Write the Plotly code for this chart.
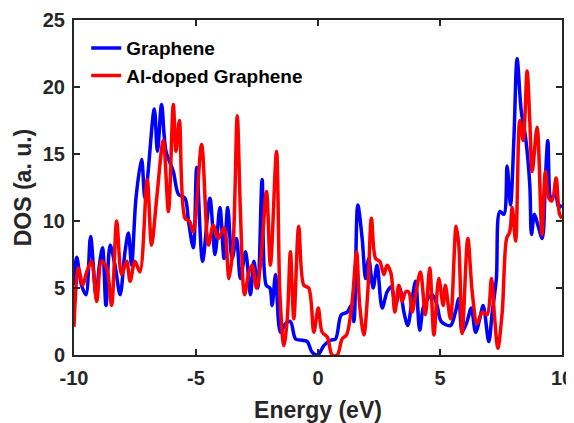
import plotly.graph_objects as go

# Graphene (blue)
energy_graphene = [-10.00, -9.89, -9.69, -9.51, -9.32, -9.10, -8.96, -8.83, -8.69, -8.52,
                   -8.32, -8.11, -7.91, -7.77, -7.64, -7.46, -7.23, -7.09, -6.71, -6.58,
                   -6.41, -6.23, -5.93, -5.72, -5.45, -5.31, -5.11, -4.97, -4.73, -4.43,
                   -4.22, -4.02, -3.85, -3.70, -3.52, -3.34, -3.18, -2.97, -2.77, -2.63,
                   -2.47, -2.29, -2.12, -1.97, -1.88, -1.74, -1.54, -1.33, -1.13, -0.92,
                   -0.65, -0.44, -0.24, -0.01, 0.24, 0.51, 0.72, 0.95, 1.20, 1.36,
                   1.47, 1.63, 1.81, 1.95, 2.08, 2.26, 2.42, 2.63, 2.83, 3.00,
                   3.18, 3.35, 3.52, 3.68, 3.86, 4.00, 4.17, 4.34, 4.68, 4.88,
                   5.05, 5.43, 5.63, 5.77, 5.91, 6.11, 6.28, 6.46, 6.63, 6.77,
                   7.00, 7.14, 7.31, 7.45, 7.62, 7.75, 7.89, 8.03, 8.16, 8.33,
                   8.51, 8.68, 8.75, 8.87, 9.01, 9.19, 9.32, 9.42, 9.56, 9.73,
                   9.87, 10.00]
dos_graphene = [5.2, 7.3, 5.2, 4.5, 8.85, 4.5, 6.7, 8.0, 3.7, 8.2,
                6.7, 4.5, 7.7, 9.1, 6.7, 11.7, 14.6, 11.7, 18.35, 15.2,
                18.7, 15.2, 13.7, 12.0, 11.7, 10.0, 8.0, 14.0, 7.0, 11.7,
                7.5, 11.0, 7.2, 11.0, 7.2, 8.7, 5.7, 7.7, 4.5, 7.0,
                5.0, 13.1, 5.2, 5.0, 3.7, 6.0, 1.7, 2.35, 2.5, 1.2,
                1.1, 1.0, 0.2, 0.0, 0.7, 1.1, 1.2, 3.0, 3.2, 3.7,
                2.5, 11.2, 8.7, 5.7, 7.2, 5.0, 6.7, 3.5, 4.7, 5.1,
                3.7, 5.0, 3.2, 2.2, 4.2, 5.5, 1.85, 3.7, 4.5, 3.7,
                2.5, 2.2, 3.2, 4.2, 1.7, 2.5, 3.5, 1.7, 2.7, 3.7,
                1.0, 3.2, 5.7, 10.7, 10.5, 14.1, 11.2, 16.2, 22.1, 18.2,
                16.2, 12.7, 9.0, 10.5, 9.7, 8.7, 13.2, 16.0, 11.7, 12.0,
                11.0, 11.2]

# Al-doped Graphene (red)
energy_aldoped = [-10.00, -9.82, -9.64, -9.48, -9.28, -9.07, -8.87, -8.66, -8.46, -8.25,
                  -8.05, -7.84, -7.70, -7.50, -7.30, -7.00, -6.82, -6.61, -6.34, -6.13,
                  -5.93, -5.82, -5.68, -5.45, -5.27, -5.11, -4.77, -4.49, -4.29, -4.08,
                  -3.85, -3.65, -3.48, -3.31, -3.18, -3.01, -2.83, -2.70, -2.52, -2.36,
                  -2.11, -1.95, -1.70, -1.56, -1.40, -1.26, -1.13, -0.99, -0.79, -0.58,
                  -0.38, -0.17, 0.01, 0.17, 0.38, 0.58, 0.79, 0.99, 1.17, 1.40,
                  1.58, 1.71, 1.88, 2.04, 2.19, 2.36, 2.53, 2.70, 2.83, 2.99,
                  3.15, 3.31, 3.45, 3.59, 3.72, 3.86, 4.00, 4.20, 4.40, 4.58,
                  4.75, 4.95, 5.13, 5.22, 5.43, 5.66, 5.77, 5.91, 6.14, 6.32,
                  6.52, 6.73, 6.93, 7.11, 7.23, 7.37, 7.55, 7.73, 7.86, 7.96,
                  8.10, 8.27, 8.41, 8.57, 8.68, 8.78, 8.98, 9.18, 9.32, 9.46,
                  9.59, 9.76, 9.90, 10.00]
dos_aldoped = [2.1, 6.5, 5.2, 6.2, 7.0, 4.0, 7.0, 6.5, 3.7, 10.0,
               6.0, 7.0, 5.5, 7.0, 6.2, 13.1, 8.2, 11.7, 16.0, 10.7,
               18.7, 15.2, 17.5, 10.2, 10.0, 9.2, 15.7, 8.2, 9.7, 8.7,
               9.5, 5.7, 8.2, 17.85, 10.7, 4.5, 6.2, 6.7, 5.0, 6.7,
               12.2, 6.7, 15.2, 4.5, 0.7, 2.7, 7.7, 2.7, 9.6, 5.2,
               5.0, 1.7, 3.5, 1.7, 1.35, 0.0, 0.0, 1.2, 1.5, 4.0,
               7.7, 3.7, 1.5, 4.7, 10.2, 7.2, 7.0, 6.0, 6.7, 6.1,
               3.2, 5.2, 4.0, 4.7, 4.7, 3.2, 4.5, 6.2, 3.0, 6.5,
               1.5, 5.7, 3.7, 5.2, 2.7, 9.6, 8.2, 1.6, 8.7, 4.7,
               2.35, 3.2, 3.0, 5.7, 3.0, 0.5, 3.2, 8.7, 9.2, 11.0,
               8.5, 17.5, 16.0, 21.2, 17.5, 13.7, 17.0, 9.0, 13.7, 11.7,
               11.5, 13.2, 10.5, 10.2]

x_ticks = [-10, -5, 0, 5, 10]
y_ticks = [0, 5, 10, 15, 20, 25]

FONT = "Liberation Sans, Arial, sans-serif"
AX = "#262626"

fig = go.Figure()
fig.add_trace(go.Scatter(x=energy_graphene, y=dos_graphene, mode="lines",
                         name="<b>Graphene</b>",
                         line=dict(color="#0000ff", width=3.5, shape="spline", smoothing=0.9)))
fig.add_trace(go.Scatter(x=energy_aldoped, y=dos_aldoped, mode="lines",
                         name="<b>Al-doped Graphene</b>",
                         line=dict(color="#ff0000", width=3.5, shape="spline", smoothing=0.9)))

axis_common = dict(showgrid=False, zeroline=False, showline=True, linecolor=AX, linewidth=2,
                   mirror="ticks", ticks="inside", ticklen=6, tickwidth=2, tickcolor=AX,
                   automargin=False,
                   tickfont=dict(family=FONT, size=20, color=AX))

fig.update_xaxes(range=[-10, 10], tickvals=x_ticks,
                 ticktext=[f"<b>{v}</b>" for v in x_ticks],
                 ticklabelstandoff=4,
                 title=dict(text="<b>Energy (eV)</b>", font=dict(family=FONT, size=23, color=AX),
                            standoff=15),
                 **axis_common)
fig.update_yaxes(range=[0, 25], tickvals=y_ticks,
                 ticktext=[f"<b>{v}</b>" for v in y_ticks],
                 ticklabelstandoff=3,
                 title=dict(text="<b>DOS (a. u.)</b>", font=dict(family=FONT, size=23, color=AX),
                            standoff=5),
                 **axis_common)

# The page body adds an 8px offset; plot area kept at the reference position.
fig.update_layout(
    width=574, height=415,
    margin=dict(l=66, r=20, t=12, b=68),
    plot_bgcolor="white", paper_bgcolor="white",
    font=dict(family=FONT, color="black"),
    showlegend=True,
    legend=dict(x=0.025, y=0.973, xanchor="left", yanchor="top",
                bgcolor="rgba(0,0,0,0)", borderwidth=0,
                font=dict(family=FONT, size=19, color="black"),
                itemwidth=30, tracegroupgap=0),
)

fig.write_html("out.html")
